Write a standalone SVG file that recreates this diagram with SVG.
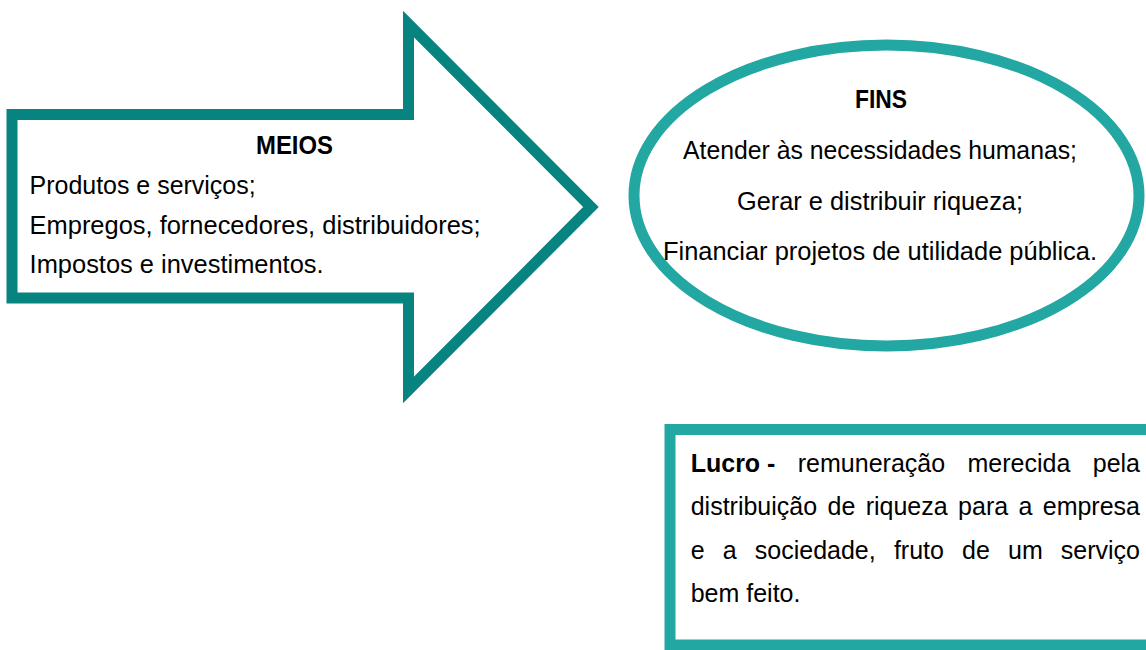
<svg xmlns="http://www.w3.org/2000/svg" width="1146" height="650" viewBox="0 0 1146 650">
  <style>
    .t { font-family: "Liberation Sans", Arial, sans-serif; font-size: 25px; fill: #000; }
    .b { font-weight: bold; }
    .arrow { fill: #fff; stroke: #078380; stroke-width: 11; stroke-linejoin: miter; }
    .lt { fill: #fff; stroke: #23A7A2; stroke-width: 11; }
  </style>
  <rect width="1146" height="650" fill="#fff"/>
  <g id="meios">
    <polygon class="arrow" points="12,114.5 408.5,114.5 408.5,24 591,207 408.5,390 408.5,298 12,298"/>
    <text class="t b" x="294.5" y="154" text-anchor="middle" textLength="77" lengthAdjust="spacingAndGlyphs">MEIOS</text>
    <text class="t" x="29.6" y="194" textLength="226" lengthAdjust="spacingAndGlyphs">Produtos e serviços;</text>
    <text class="t" x="29.6" y="234" textLength="451" lengthAdjust="spacingAndGlyphs">Empregos, fornecedores, distribuidores;</text>
    <text class="t" x="29.6" y="273" textLength="294" lengthAdjust="spacingAndGlyphs">Impostos e investimentos.</text>
  </g>
  <g id="fins">
    <ellipse class="lt" cx="886.5" cy="195.5" rx="252.5" ry="150.5"/>
    <text class="t b" x="881" y="108" text-anchor="middle" textLength="52" lengthAdjust="spacingAndGlyphs">FINS</text>
    <text class="t" x="880" y="159" text-anchor="middle" textLength="394" lengthAdjust="spacingAndGlyphs">Atender às necessidades humanas;</text>
    <text class="t" x="880" y="210" text-anchor="middle" textLength="286" lengthAdjust="spacingAndGlyphs">Gerar e distribuir riqueza;</text>
    <text class="t" x="880" y="260" text-anchor="middle" textLength="434" lengthAdjust="spacingAndGlyphs">Financiar projetos de utilidade pública.</text>
  </g>
  <g id="lucro">
    <rect class="lt" x="670" y="429.5" width="490" height="215.5" stroke-width="10"/>
    <text class="t" y="472"><tspan class="b" x="690.7">Lucro -</tspan><tspan x="797.8">remuneração</tspan><tspan x="967.5">merecida</tspan><tspan x="1140" text-anchor="end">pela</tspan></text>
    <text class="t" y="515"><tspan x="690.7">distribuição</tspan><tspan x="827.5">de</tspan><tspan x="865.7">riqueza</tspan><tspan x="958.1">para</tspan><tspan x="1018.5">a</tspan><tspan x="1140" text-anchor="end">empresa</tspan></text>
    <text class="t" y="558.5"><tspan x="690.7">e</tspan><tspan x="722.8">a</tspan><tspan x="754.8">sociedade,</tspan><tspan x="893.9">fruto</tspan><tspan x="962">de</tspan><tspan x="1008">um</tspan><tspan x="1140" text-anchor="end">serviço</tspan></text>
    <text class="t" x="690.7" y="602">bem feito.</text>
  </g>
</svg>
